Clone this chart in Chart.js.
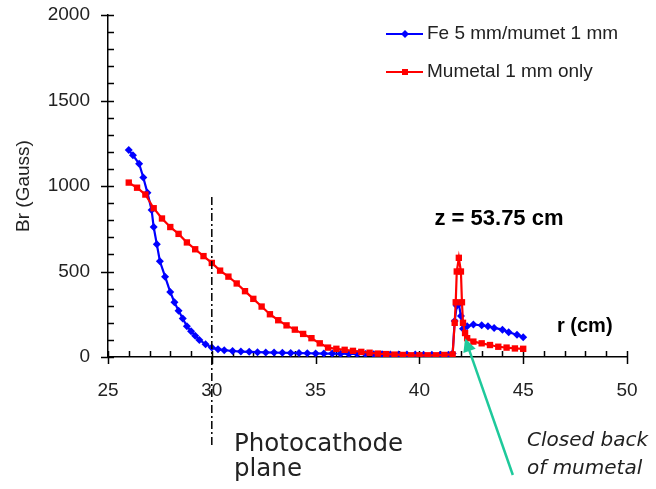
<!DOCTYPE html>
<html>
<head>
<meta charset="utf-8">
<script src="https://cdn.jsdelivr.net/npm/chart.js@4/dist/chart.umd.min.js"></script>
<style>
  html, body { margin: 0; padding: 0; background: #fff; }
  canvas { display: block; }
</style>
</head>
<body>
<canvas id="brChart" width="656" height="489"></canvas>
<script>
// Fe 5 mm / mumetal 1 mm
const feR = [26.0, 26.2, 26.5, 26.7, 26.9, 27.1, 27.2, 27.35, 27.5, 27.75, 28.0, 28.2, 28.4, 28.6, 28.8, 29.0, 29.2, 29.4, 29.7, 30.0,
  30.3, 30.6, 31.0, 31.4, 31.8, 32.2, 32.6, 33.0, 33.4, 33.8, 34.2, 34.6, 35.0, 35.4, 35.8, 36.2, 36.6, 37.0, 37.4, 37.8,
  38.2, 38.6, 39.0, 39.4, 39.8, 40.2, 40.6, 41.0, 41.4, 41.6, 41.7, 41.8, 41.9, 42.0, 42.1, 42.3, 42.6, 43.0, 43.3, 43.6,
  44.0, 44.3, 44.7, 45.0];
const feBr = [1210, 1180, 1130, 1050, 960, 860, 760, 660, 560, 470, 380, 320, 270, 225, 180, 150, 125, 100, 75, 55,
  45, 40, 35, 32, 30, 28, 27, 26, 25, 24, 23, 22, 21, 20, 20, 19, 18, 18, 17, 16,
  16, 15, 15, 14, 14, 13, 13, 13, 13, 20, 210, 300, 310, 240, 165, 180, 190, 185, 180, 170,
  160, 145, 130, 115];

// Mumetal 1 mm only
const muR = [26.0, 26.4, 26.8, 27.2, 27.6, 28.0, 28.4, 28.8, 29.2, 29.6, 30.0, 30.4, 30.8, 31.2, 31.6, 32.0, 32.4, 32.8, 33.2, 33.6,
  34.0, 34.4, 34.8, 35.2, 35.6, 36.0, 36.4, 36.8, 37.2, 37.6, 38.0, 38.4, 38.8, 39.2, 39.6, 40.0, 40.4, 40.8, 41.2, 41.6,
  41.7, 41.75, 41.8, 41.9, 42.0, 42.05, 42.1, 42.2, 42.3, 42.6, 43.0, 43.4, 43.8, 44.2, 44.6, 45.0];
const muBr = [1020, 990, 950, 870, 810, 760, 720, 670, 630, 590, 550, 505, 470, 430, 385, 340, 295, 250, 215, 185,
  160, 135, 110, 80, 55, 48, 42, 36, 30, 25, 20, 17, 14, 12, 10, 10, 10, 10, 12, 15,
  200, 320, 500, 580, 500, 320, 200, 140, 110, 90, 80, 70, 60, 55, 50, 48];

const seriesNames = ["Fe 5 mm/mumet 1 mm", "Mumetal 1 mm only"];
const seriesColors = ["#0000ff", "#ff0000"];
const xMin = 25, xMax = 50, xStep = 5, xMinor = 1;
const yMin = 0, yMax = 2000, yStep = 500, yMinor = 100;
const photocathodeR = 30;

const FONT = "'Liberation Sans', Arial, sans-serif";

function toPoints(xs, ys) {
  return xs.map((x, i) => ({ x: x, y: ys[i] }));
}

const extras = {
  id: "extras",
  beforeDatasetsDraw(chart) {
    const { ctx, chartArea: a, scales: { x, y } } = chart;
    ctx.save();
    ctx.strokeStyle = "#000";
    ctx.lineWidth = 1.5;
    ctx.beginPath();
    for (let v = xMin; v <= xMax; v += xMinor) {
      const px = Math.round(x.getPixelForValue(v)) + 0.5;
      const major = v % xStep === 0;
      ctx.moveTo(px, a.bottom - 6);
      ctx.lineTo(px, a.bottom + (major ? 7 : 0));
    }
    for (let v = yMin; v <= yMax; v += yMinor) {
      const py = Math.round(y.getPixelForValue(v)) + 0.5;
      const major = v % yStep === 0;
      ctx.moveTo(a.left - (major ? 7 : 0), py);
      ctx.lineTo(a.left + 6, py);
    }
    ctx.stroke();
    ctx.restore();
  },
  afterDatasetsDraw(chart) {
    const { ctx, chartArea: a, scales: { x, y } } = chart;
    ctx.save();

    // photocathode plane
    const dx = x.getPixelForValue(photocathodeR);
    ctx.strokeStyle = "#000";
    ctx.lineWidth = 1.5;
    ctx.setLineDash([8, 3, 2, 3]);
    ctx.beginPath();
    ctx.moveTo(dx, y.getPixelForValue(935));
    ctx.lineTo(dx, a.bottom + 88);
    ctx.stroke();
    ctx.setLineDash([]);

    // arrow to closed back
    const tipX = x.getPixelForValue(42.2), tipY = y.getPixelForValue(110);
    const tailX = x.getPixelForValue(44.5), tailY = a.bottom + 118;
    const ang = Math.atan2(tipY - tailY, tipX - tailX);
    ctx.strokeStyle = "#1ec99b";
    ctx.fillStyle = "#1ec99b";
    ctx.lineWidth = 2.5;
    ctx.beginPath();
    ctx.moveTo(tailX, tailY);
    ctx.lineTo(tipX - 10 * Math.cos(ang), tipY - 10 * Math.sin(ang));
    ctx.stroke();
    ctx.beginPath();
    ctx.moveTo(tipX, tipY);
    ctx.lineTo(tipX - 15 * Math.cos(ang - 0.45), tipY - 15 * Math.sin(ang - 0.45));
    ctx.lineTo(tipX - 15 * Math.cos(ang + 0.45), tipY - 15 * Math.sin(ang + 0.45));
    ctx.closePath();
    ctx.fill();

    // labels
    ctx.fillStyle = "#000";
    ctx.textBaseline = "alphabetic";
    ctx.textAlign = "center";
    ctx.font = "bold 22px " + FONT;
    ctx.fillText("z = 53.75 cm", 499, 225);
    ctx.textAlign = "left";
    ctx.font = "bold 20px " + FONT;
    ctx.fillText("r (cm)", 557, 332);

    ctx.fillStyle = "#222";
    ctx.font = "24.5px 'DejaVu Sans', sans-serif";
    ctx.fillText("Photocathode", 234, 451);
    ctx.fillText("plane", 234, 476);
    ctx.font = "oblique 20px 'DejaVu Sans', sans-serif";
    ctx.fillText("Closed back", 527, 446);
    ctx.fillText("of mumetal", 527, 474);

    // legend
    const rows = [34, 72];
    chart.data.datasets.forEach((ds, i) => {
      const ly = rows[i];
      ctx.strokeStyle = ds.borderColor;
      ctx.fillStyle = ds.borderColor;
      ctx.lineWidth = 2;
      ctx.beginPath();
      ctx.moveTo(386, ly);
      ctx.lineTo(423, ly);
      ctx.stroke();
      if (i === 0) {
        ctx.beginPath();
        ctx.moveTo(405, ly - 4); ctx.lineTo(409, ly); ctx.lineTo(405, ly + 4); ctx.lineTo(401, ly);
        ctx.closePath();
        ctx.fill();
      } else {
        ctx.fillRect(402, ly - 3, 6, 6);
      }
      ctx.fillStyle = "#222";
      ctx.font = "19px " + FONT;
      ctx.textBaseline = "middle";
      ctx.fillText(ds.label, 427, ly);
    });
    ctx.restore();
  }
};

new Chart(document.getElementById("brChart"), {
  type: "line",
  data: {
    datasets: [
      {
        label: seriesNames[0],
        data: toPoints(feR, feBr),
        borderColor: seriesColors[0],
        backgroundColor: seriesColors[0],
        borderWidth: 2.2,
        pointStyle: "rectRot",
        pointRadius: 4,
        pointBorderWidth: 0,
        order: 1
      },
      {
        label: seriesNames[1],
        data: toPoints(muR, muBr),
        borderColor: seriesColors[1],
        backgroundColor: seriesColors[1],
        borderWidth: 2.2,
        pointStyle: "rect",
        pointRadius: 4.5,
        pointBorderWidth: 0,
        order: 0
      }
    ]
  },
  options: {
    responsive: false,
    animation: false,
    layout: { padding: { left: 0, right: 29, top: 15, bottom: 0 } },
    plugins: { legend: { display: false }, tooltip: { enabled: false } },
    scales: {
      x: {
        type: "linear",
        min: xMin,
        max: xMax,
        afterFit: (s) => { s.height = 132; },
        ticks: { stepSize: xStep, padding: 0, color: "#222", callback: (v) => String(v), font: { family: FONT, size: 19 } },
        grid: { display: true, drawOnChartArea: false, drawTicks: true, tickLength: 22, tickColor: "rgba(0,0,0,0)" },
        border: { display: true, color: "#000", width: 1.5 }
      },
      y: {
        min: yMin,
        max: yMax,
        afterFit: (s) => { s.width = 108; },
        ticks: { stepSize: yStep, padding: 0, color: "#222", callback: (v) => String(v), font: { family: FONT, size: 19 } },
        grid: { display: true, drawOnChartArea: false, drawTicks: true, tickLength: 18, tickColor: "rgba(0,0,0,0)" },
        border: { display: true, color: "#000", width: 1.5 },
        title: { display: true, text: "Br (Gauss)", color: "#222", padding: { top: 12, bottom: 0 }, font: { family: FONT, size: 19 } }
      }
    }
  },
  plugins: [extras]
});
</script>
</body>
</html>
